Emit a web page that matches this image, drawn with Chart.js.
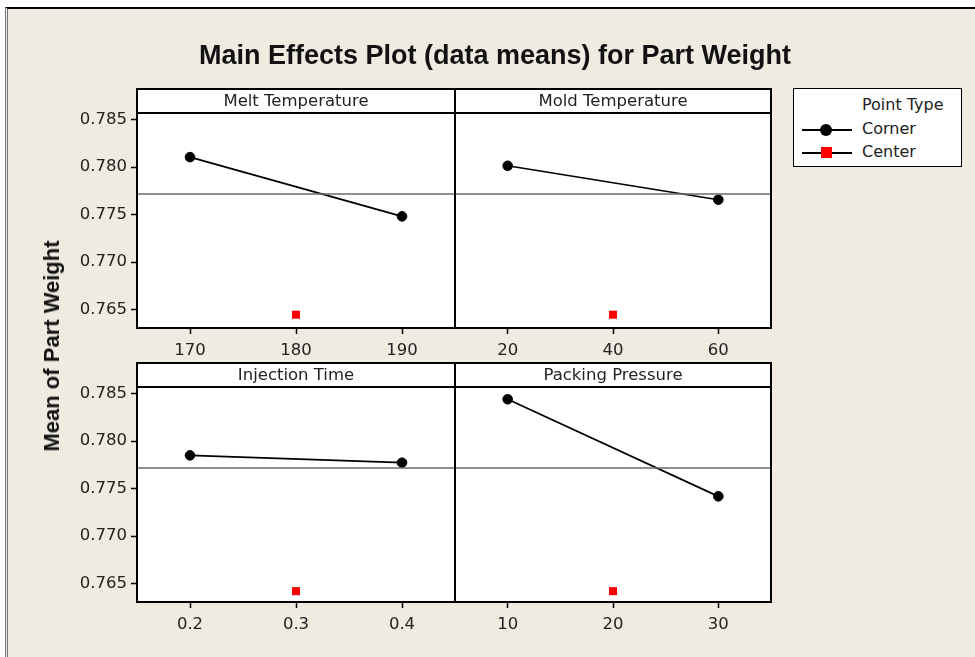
<!DOCTYPE html>
<html>
<head>
<meta charset="utf-8">
<script src="https://cdn.jsdelivr.net/npm/chart.js@4.4.1/dist/chart.umd.min.js"></script>
<style>
  html, body { margin: 0; padding: 0; background: #ffffff; }
  #page { position: relative; width: 975px; height: 657px; overflow: hidden; }
  #frame { position: absolute; left: 5px; top: 7px; right: 0; bottom: 0;
           background: #efebe1; border-top: 2px solid #000; border-left: 3px double #777; }
  canvas { position: absolute; left: 0; top: 0; }
  #title { position: absolute; left: 0; width: 990px; top: 40px; text-align: center;
           font: bold 27px "Liberation Sans", sans-serif; color: #111; }
  #ytitle { position: absolute; left: 52px; top: 346px; transform: translate(-50%, -50%) rotate(-90deg);
            white-space: nowrap; font: bold 22px "Liberation Sans", sans-serif; color: #111; }
  #legend { position: absolute; left: 793px; top: 88px; width: 167px; height: 77px;
            background: #fff; border: 1.5px solid #000; font: 16px "DejaVu Sans", sans-serif; color: #222; }
  .lg { position: absolute; left: 68px; white-space: nowrap; }
  .ln { position: absolute; left: 8px; width: 50px; height: 2px; background: #000; }
  .dot { position: absolute; left: 26px; width: 12px; height: 12px; border-radius: 50%; background: #000; }
  .sq { position: absolute; left: 27px; width: 11px; height: 11px; background: #f00; }
</style>
</head>
<body>
<div id="page">
  <div id="frame"></div>
  <canvas id="c0" width="975" height="657"></canvas>
  <canvas id="c1" width="975" height="657"></canvas>
  <canvas id="c2" width="975" height="657"></canvas>
  <canvas id="c3" width="975" height="657"></canvas>
  <div id="title">Main Effects Plot (data means) for Part Weight</div>
  <div id="ytitle">Mean of Part Weight</div>
  <div id="legend">
    <div class="lg" style="top:6px;">Point Type</div>
    <div class="ln" style="top:40px;"></div><div class="dot" style="top:35px;"></div>
    <div class="lg" style="top:30px;">Corner</div>
    <div class="ln" style="top:63px;"></div><div class="sq" style="top:58px;"></div>
    <div class="lg" style="top:53px;">Center</div>
  </div>
</div>
<script>
// values
const factorNames = ['Melt Temperature', 'Mold Temperature', 'Injection Time', 'Packing Pressure'];
const cornerLevels = [[170, 190], [20, 60], [0.2, 0.4], [10, 30]];
const cornerMeans = [[0.78105, 0.77482], [0.78014, 0.77657], [0.7785, 0.77773], [0.7844, 0.77419]];
const centerLevels = [180, 40, 0.3, 20];
const centerMeans = [0.76448, 0.76448, 0.76422, 0.76422];
const grandMean = 0.77717;
const yTicks = [0.765, 0.770, 0.775, 0.780, 0.785];
const xTicks = [[170, 180, 190], [20, 40, 60], [0.2, 0.3, 0.4], [10, 20, 30]];
const xRanges = [[165, 195], [10, 70], [0.15, 0.45], [5, 35]];
const yRange = [0.76308, 0.78569];

// panel boxes on the page: left, top, right, bottom of the plotting area
const boxes = [
    [137, 113, 455, 328],
    [455, 113, 771, 328],
    [137, 387, 455, 602],
    [455, 387, 771, 602]
];
const W = 975, H = 657;
const yAxisW = 60, xAxisH = 40, headerH = 24;

const panelFrame = {
    id: 'panelFrame',
    beforeDatasetsDraw(chart) {
        const a = chart.chartArea, ctx = chart.ctx;
        ctx.save();
        ctx.fillStyle = '#fff';
        ctx.fillRect(a.left, a.top, a.right - a.left, a.bottom - a.top);
        ctx.restore();
    },
    afterDraw(chart, args, opts) {
        const a = chart.chartArea, ctx = chart.ctx;
        ctx.save();
        ctx.fillStyle = '#fff';
        ctx.fillRect(a.left, a.top - headerH, a.right - a.left, headerH);
        ctx.strokeStyle = '#000';
        ctx.lineWidth = 2;
        ctx.strokeRect(a.left, a.top - headerH, a.right - a.left, headerH);
        ctx.strokeRect(a.left, a.top, a.right - a.left, a.bottom - a.top);
        ctx.fillStyle = '#222';
        ctx.font = '16.5px "DejaVu Sans", sans-serif';
        ctx.textAlign = 'center';
        ctx.textBaseline = 'middle';
        ctx.fillText(opts.label, (a.left + a.right) / 2, a.top - headerH / 2 + 1);
        ctx.restore();
    }
};

factorNames.forEach(function (name, i) {
    const b = boxes[i];
    const showY = (i % 2 === 0);
    new Chart(document.getElementById('c' + i), {
        type: 'line',
        data: {
            datasets: [{
                label: 'Mean',
                data: [{ x: xRanges[i][0], y: grandMean }, { x: xRanges[i][1], y: grandMean }],
                borderColor: '#6a6a6a',
                borderWidth: 1.5,
                pointRadius: 0
            }, {
                label: 'Corner',
                data: cornerLevels[i].map((x, k) => ({ x: x, y: cornerMeans[i][k] })),
                borderColor: '#000',
                backgroundColor: '#000',
                borderWidth: 1.7,
                pointRadius: 4.8,
                pointBorderWidth: 1
            }, {
                label: 'Center',
                data: [{ x: centerLevels[i], y: centerMeans[i] }],
                showLine: false,
                pointStyle: 'rect',
                pointRadius: 5.7,
                pointBorderWidth: 0,
                backgroundColor: '#f00',
                borderColor: '#f00'
            }]
        },
        options: {
            responsive: false,
            animation: false,
            events: [],
            layout: {
                padding: {
                    left: showY ? b[0] - yAxisW : b[0],
                    top: b[1],
                    right: W - b[2],
                    bottom: H - b[3] - xAxisH
                }
            },
            plugins: {
                legend: { display: false },
                tooltip: { enabled: false },
                panelFrame: { label: name }
            },
            scales: {
                x: {
                    type: 'linear',
                    min: xRanges[i][0],
                    max: xRanges[i][1],
                    afterBuildTicks: s => { s.ticks = xTicks[i].map(v => ({ value: v })); },
                    afterFit: s => { s.height = xAxisH; },
                    grid: { drawOnChartArea: false, drawTicks: true, tickLength: 6, tickColor: '#000', tickWidth: 1.5 },
                    border: { display: false },
                    ticks: {
                        color: '#222', padding: 7,
                        font: { family: 'DejaVu Sans', size: 16.5 },
                        callback: v => String(v)
                    }
                },
                y: {
                    display: showY,
                    min: yRange[0],
                    max: yRange[1],
                    afterBuildTicks: s => { s.ticks = yTicks.map(v => ({ value: v })); },
                    afterFit: s => { s.width = showY ? yAxisW : 0; },
                    grid: { drawOnChartArea: false, drawTicks: true, tickLength: 6, tickColor: '#000', tickWidth: 1.5 },
                    border: { display: false },
                    ticks: {
                        color: '#222', padding: 4,
                        font: { family: 'DejaVu Sans', size: 16.5 },
                        callback: v => v.toFixed(3)
                    }
                }
            }
        },
        plugins: [panelFrame]
    });
});
</script>
</body>
</html>
